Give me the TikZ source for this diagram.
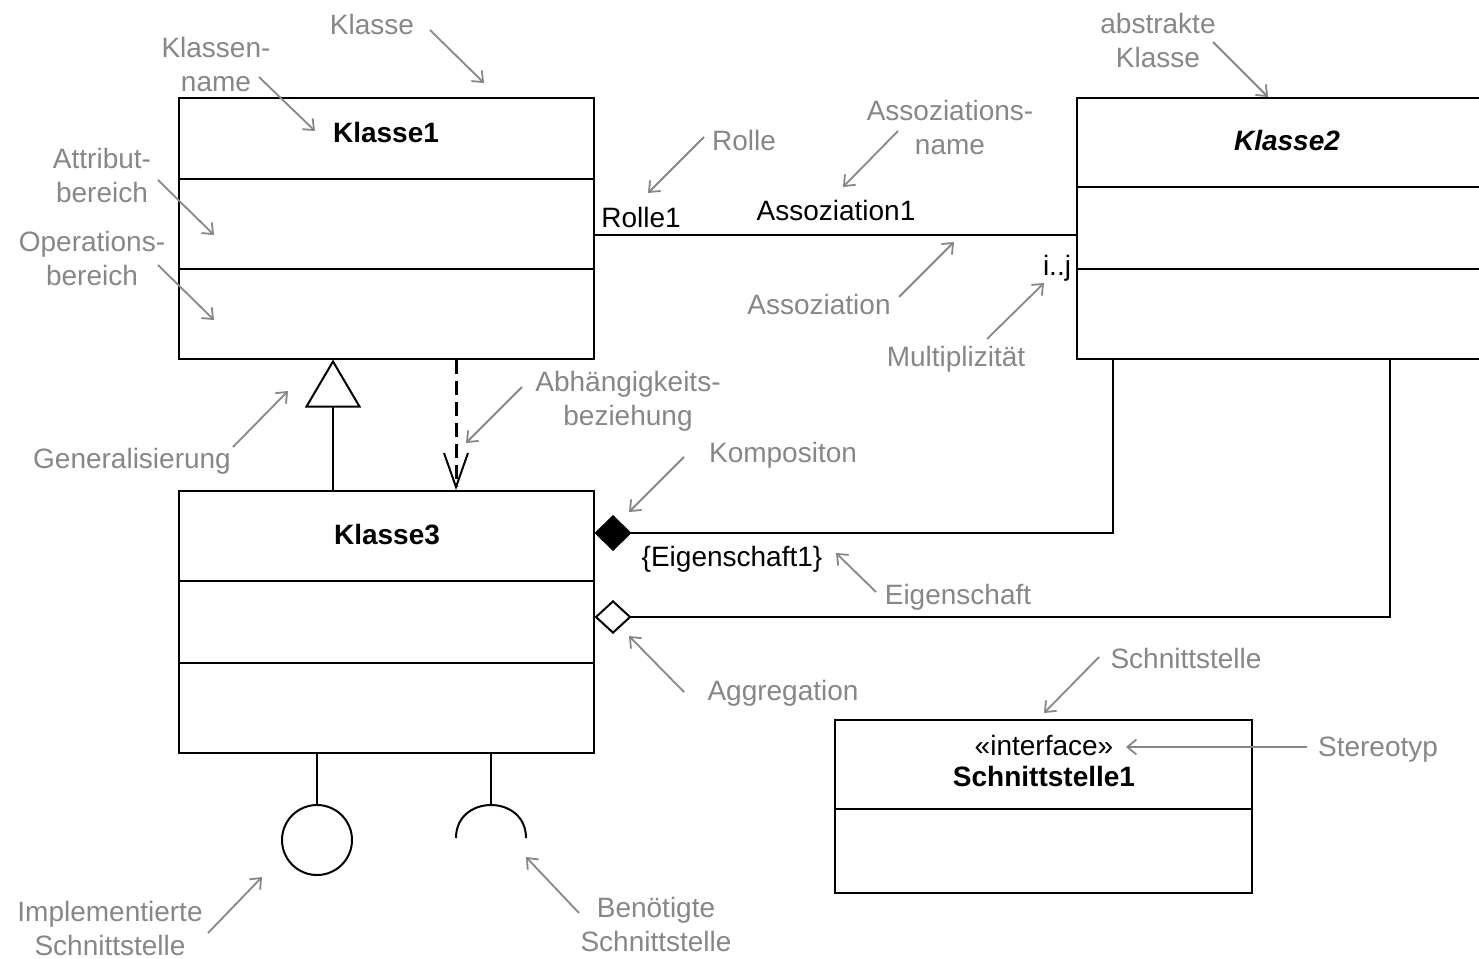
\documentclass[tikz,border=0pt]{standalone}
\usepackage{fontspec}
\setmainfont{Liberation Sans}
\usetikzlibrary{arrows.meta}
\definecolor{anno}{RGB}{135,135,135}
\begin{document}
\begin{tikzpicture}[x=1pt,y=-1pt,
  font=\fontsize{28}{34}\selectfont,
  classbox/.style={draw=black,line width=2pt,inner sep=0pt},
  part/.style={draw=black,line width=2pt},
  title/.style={anchor=base,inner sep=0pt,font=\fontsize{28}{34}\selectfont\bfseries},
  txt/.style={anchor=base,inner sep=0pt},
  note/.style={anchor=base,inner sep=0pt,text=anno,align=center,font=\fontsize{28}{34}\selectfont},
  pointer/.style={draw=anno,line width=1.8pt,-{Straight Barb[length=9pt,width=15pt]}},
  link/.style={draw=black,line width=2pt}
]
\useasboundingbox (0,0) rectangle (1479,958);
\fill[white] (0,0) rectangle (1479,958);
\clip (0,0) rectangle (1479,958);

% ---------- classes ----------
\node[classbox,minimum width=415pt,minimum height=261pt] (k1) at (386,228) {};
\draw[part] (k1.west |- 0,179) -- (k1.east |- 0,179);
\draw[part] (k1.west |- 0,269) -- (k1.east |- 0,269);
\node[title] (k1name) at (386,142) {Klasse1};

\node[classbox,minimum width=412pt,minimum height=261pt] (k2) at (1283,228) {};
\draw[part] (k2.west |- 0,187) -- (k2.east |- 0,187);
\draw[part] (k2.west |- 0,269) -- (k2.east |- 0,269);
\node[title] (k2name) at (1287,150) {\itshape Klasse2};

\node[classbox,minimum width=415pt,minimum height=262pt] (k3) at (386,622) {};
\draw[part] (k3.west |- 0,581) -- (k3.east |- 0,581);
\draw[part] (k3.west |- 0,663) -- (k3.east |- 0,663);
\node[title] (k3name) at (387,544) {Klasse3};

\node[classbox,minimum width=417pt,minimum height=173pt] (if) at (1043.5,806) {};
\draw[part] (if.west |- 0,809) -- (if.east |- 0,809);
\node[txt] (ster) at (1044,755) {«interface»};
\node[title] (ifname) at (1044,786) {Schnittstelle1};

% ---------- association ----------
\coordinate (as1) at (k1.east |- 0,235);
\coordinate (as2) at (k2.west |- 0,235);
\draw[link] (as1) -- (as2);
\node[txt] (role) at (641,227) {Rolle1};
\node[txt] (asname) at (836,220) {Assoziation1};
\node[txt] (mult) at (1057,275) {i..j};

% ---------- generalisation and dependency ----------
\draw[link,-{Triangle[open,length=48pt,width=56pt]}] (k3.north -| 333,0) -- (k1.south -| 333,0);
\draw[link,line width=3pt,dash pattern=on 14pt off 7pt,
      -{Straight Barb[length=34pt,width=24pt,line width=2pt]}] (k1.south -| 456,0) -- (k3.north -| 456,0);

% ---------- composition and aggregation ----------
\draw[link,-{Diamond[length=37pt,width=36pt]}] (k2.south -| 1113,0) |- (k3.east |- 0,533);
\draw[link,-{Diamond[open,length=37pt,width=34pt]}] (k2.south -| 1390,0) |- (k3.east |- 0,617);
\node[txt] (prop) at (732,566) {\{Eigenschaft1\}};

% ---------- provided and required interfaces ----------
\node[draw=black,line width=2pt,circle,minimum size=70pt,inner sep=0pt] (prov) at (317,840) {};
\draw[link] (k3.south -| 317,0) -- (prov.north);
\coordinate (req) at (491,805);
\draw[link] (k3.south -| 491,0) -- (req);
\draw[link] (456,838) .. controls (456,794) and (526,794) .. (526,838);

% ---------- annotations (multi-line notes sit on the baseline of their last line) ----------
\node[note] (nKlasse) at (372,35) {Klasse};
\node[note] (nName) at (216,92) {Klassen-\\name};
\node[note] (nAttr) at (102,202) {Attribut-\\bereich};
\node[note] (nOp) at (92,285) {Operations-\\bereich};
\node[note] (nRolle) at (744,150) {Rolle};
\node[note] (nAsName) at (950,154) {Assoziations-\\name};
\node[note] (nAbstr) at (1158,67) {abstrakte\\Klasse};
\node[note] (nAs) at (819,314) {Assoziation};
\node[note] (nMult) at (956,366) {Multiplizität};
\node[note] (nGen) at (132,468) {Generalisierung};
\node[note] (nDep) at (628,425) {Abhängigkeits-\\beziehung};
\node[note] (nKomp) at (783,462) {Kompositon};
\node[note] (nEig) at (958,604) {Eigenschaft};
\node[note] (nAggr) at (783,700) {Aggregation};
\node[note] (nIf) at (1186,668) {Schnittstelle};
\node[note] (nSter) at (1378,756) {Stereotyp};
\node[note] (nImpl) at (110,955) {Implementierte\\Schnittstelle};
\node[note] (nReq) at (656,951) {Benötigte\\Schnittstelle};

\coordinate (p1a) at (430,30);   \coordinate (p1b) at (484,83);
\coordinate (p2a) at (259,77);   \coordinate (p2b) at (315,131);
\coordinate (p3a) at (158,180);  \coordinate (p3b) at (214,235);
\coordinate (p4a) at (158,265);  \coordinate (p4b) at (214,320);
\coordinate (p5a) at (704,137);  \coordinate (p5b) at (648,193);
\coordinate (p6a) at (898,131);  \coordinate (p6b) at (843,187);
\coordinate (p7a) at (1213,42);  \coordinate (p7b) at (1268,97);
\coordinate (p8a) at (899,297);  \coordinate (p8b) at (954,242);
\coordinate (p9a) at (987,339);  \coordinate (p9b) at (1044,283);
\coordinate (p10a) at (233,447); \coordinate (p10b) at (288,391);
\coordinate (p11a) at (522,387); \coordinate (p11b) at (466,443);
\coordinate (p12a) at (684,457); \coordinate (p12b) at (629,512);
\coordinate (p13a) at (876,592); \coordinate (p13b) at (836,553);
\coordinate (p14a) at (684,692); \coordinate (p14b) at (629,636);
\coordinate (p15a) at (1099,657); \coordinate (p15b) at (1044,713);
\coordinate (p16a) at (1307,747); \coordinate (p16b) at (1126,747);
\coordinate (p17a) at (208,933); \coordinate (p17b) at (262,877);
\coordinate (p18a) at (579,913); \coordinate (p18b) at (526,857);

\foreach \i in {1,...,18} {\draw[pointer] (p\i a) -- (p\i b);}
\end{tikzpicture}
\end{document}
